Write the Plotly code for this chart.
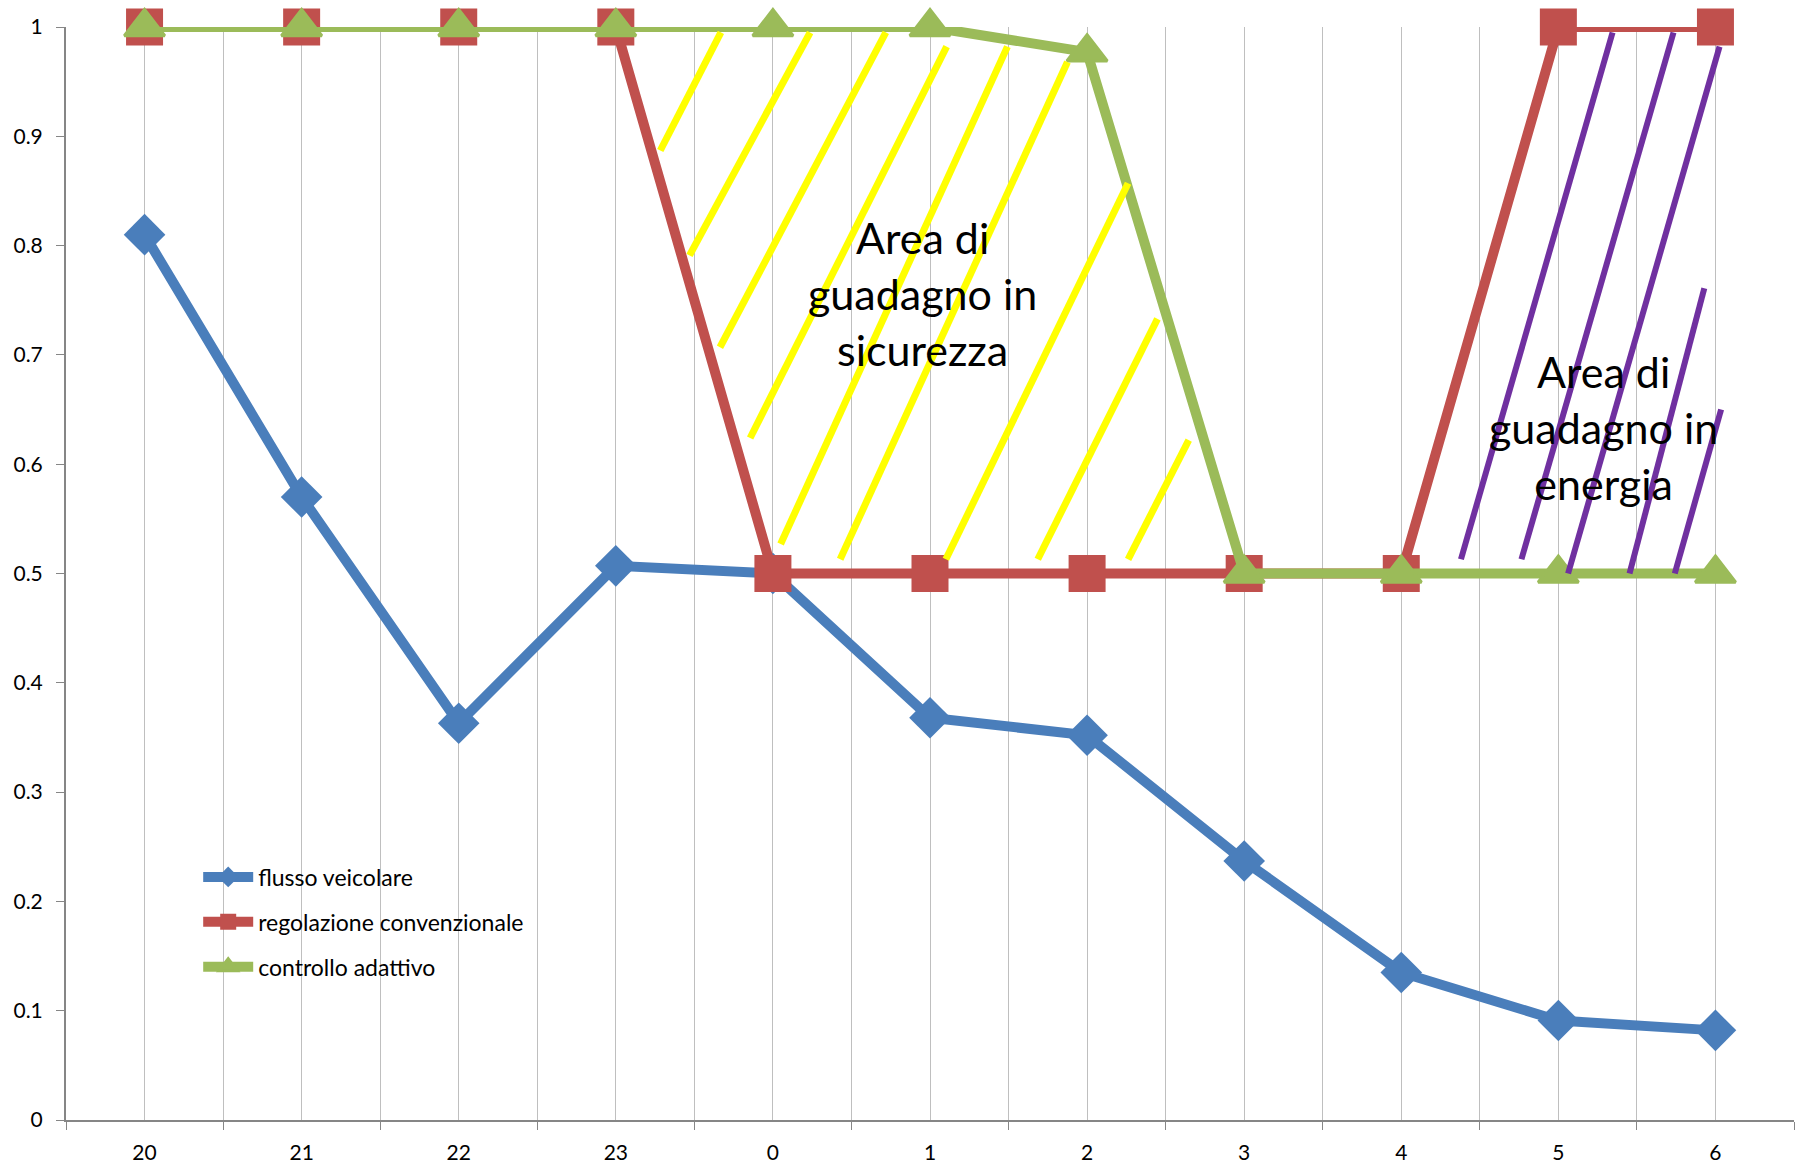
import plotly.graph_objects as go

categories = ["20", "21", "22", "23", "0", "1", "2", "3", "4", "5", "6"]
flusso_veicolare = [0.81, 0.57, 0.363, 0.507, 0.50, 0.368, 0.352, 0.237, 0.135, 0.091, 0.082]
regolazione_convenzionale = [1, 1, 1, 1, 0.5, 0.5, 0.5, 0.5, 0.5, 1, 1]
controllo_adattivo = [1, 1, 1, 1, 1, 1, 0.977, 0.5, 0.5, 0.5, 0.5]

# hatch segments (category-index x, value y): start -> end
yellow_x0 = [3.669, 4.237, 4.719, 5.106, 5.493, 5.875, 6.261, 6.448, 6.647]
yellow_y0 = [0.995, 0.995, 0.995, 0.982, 0.982, 0.968, 0.857, 0.733, 0.622]
yellow_x1 = [3.283, 3.469, 3.663, 3.855, 4.049, 4.428, 5.101, 5.686, 6.261]
yellow_y1 = [0.887, 0.791, 0.707, 0.624, 0.527, 0.513, 0.513, 0.513, 0.513]

purple_x0 = [9.345, 9.733, 10.026, 9.929, 10.036]
purple_y0 = [0.995, 0.995, 0.982, 0.761, 0.650]
purple_x1 = [8.380, 8.765, 9.062, 9.453, 9.741]
purple_y1 = [0.513, 0.513, 0.500, 0.500, 0.500]

label_sicurezza = "Area di<br>guadagno in<br>sicurezza"
label_energia = "Area di<br>guadagno in<br>energia"

idx = list(range(len(categories)))

BLUE = "#4A7EBB"
RED = "#C0504D"
GREEN = "#9BBB59"
FONT = "Lato"

fig = go.Figure()
fig.add_trace(go.Scatter(
    x=idx, y=flusso_veicolare, name="flusso veicolare", mode="lines+markers",
    line=dict(color=BLUE, width=10),
    marker=dict(symbol="diamond", size=32, color=BLUE),
    cliponaxis=False, legendgroup="a"))
fig.add_trace(go.Scatter(
    x=idx, y=regolazione_convenzionale, name="regolazione convenzionale", mode="lines+markers",
    line=dict(color=RED, width=10),
    marker=dict(symbol="square", size=37, color=RED),
    cliponaxis=False, legendgroup="b"))
fig.add_trace(go.Scatter(
    x=idx, y=controllo_adattivo, name="controllo adattivo", mode="lines+markers",
    line=dict(color=GREEN, width=10),
    marker=dict(symbol="triangle-up", size=35, color=GREEN, line=dict(color=GREEN, width=3)),
    cliponaxis=False, legendgroup="c"))


def segs(x0, y0, x1, y1):
    xs, ys = [], []
    for a, b, c, d in zip(x0, y0, x1, y1):
        xs += [a, c, None]
        ys += [b, d, None]
    return xs, ys


yx, yy = segs(yellow_x0, yellow_y0, yellow_x1, yellow_y1)
px, py = segs(purple_x0, purple_y0, purple_x1, purple_y1)
fig.add_trace(go.Scatter(x=yx, y=yy, mode="lines", line=dict(color="#FFFF00", width=7),
                         showlegend=False, hoverinfo="skip", cliponaxis=False))
fig.add_trace(go.Scatter(x=px, y=py, mode="lines", line=dict(color="#7030A0", width=6),
                         showlegend=False, hoverinfo="skip", cliponaxis=False))

fig.add_annotation(x=4.952, y=0.756, text=label_sicurezza, showarrow=False,
                   font=dict(family=FONT, size=43, color="black"))
fig.add_annotation(x=9.29, y=0.634, text=label_energia, showarrow=False,
                   font=dict(family=FONT, size=43, color="black"))

fig.update_layout(
    width=1803, height=1165,
    margin=dict(l=66, r=9, t=27, b=45),
    paper_bgcolor="white", plot_bgcolor="white",
    font=dict(family=FONT, size=21, color="black"),
    showlegend=True,
    legend=dict(x=0.0765, y=0.242, xanchor="left", yanchor="top",
                bgcolor="rgba(0,0,0,0)", font=dict(family=FONT, size=23, color="black"),
                tracegroupgap=12, itemwidth=50),
    xaxis=dict(
        range=[-0.5, 10.5], tickmode="array", tickvals=idx, ticktext=categories,
        ticks="", showgrid=True, gridcolor="#BFBFBF", gridwidth=1,
        showline=True, linecolor="#868686", linewidth=2, zeroline=False,
        ticklabelstandoff=13, automargin=False,
        minor=dict(tick0=-0.5, dtick=1, ticks="outside", ticklen=8, tickcolor="#868686",
                   tickwidth=1, showgrid=True, gridcolor="#BFBFBF", gridwidth=1),
    ),
    yaxis=dict(
        range=[0, 1], dtick=0.1, tick0=0, ticks="outside", ticklen=8, tickcolor="#868686",
        showgrid=False, showline=True, linecolor="#868686", linewidth=2, zeroline=False,
        ticklabelstandoff=9, automargin=False,
    ),
)

fig.write_html("out.html")
